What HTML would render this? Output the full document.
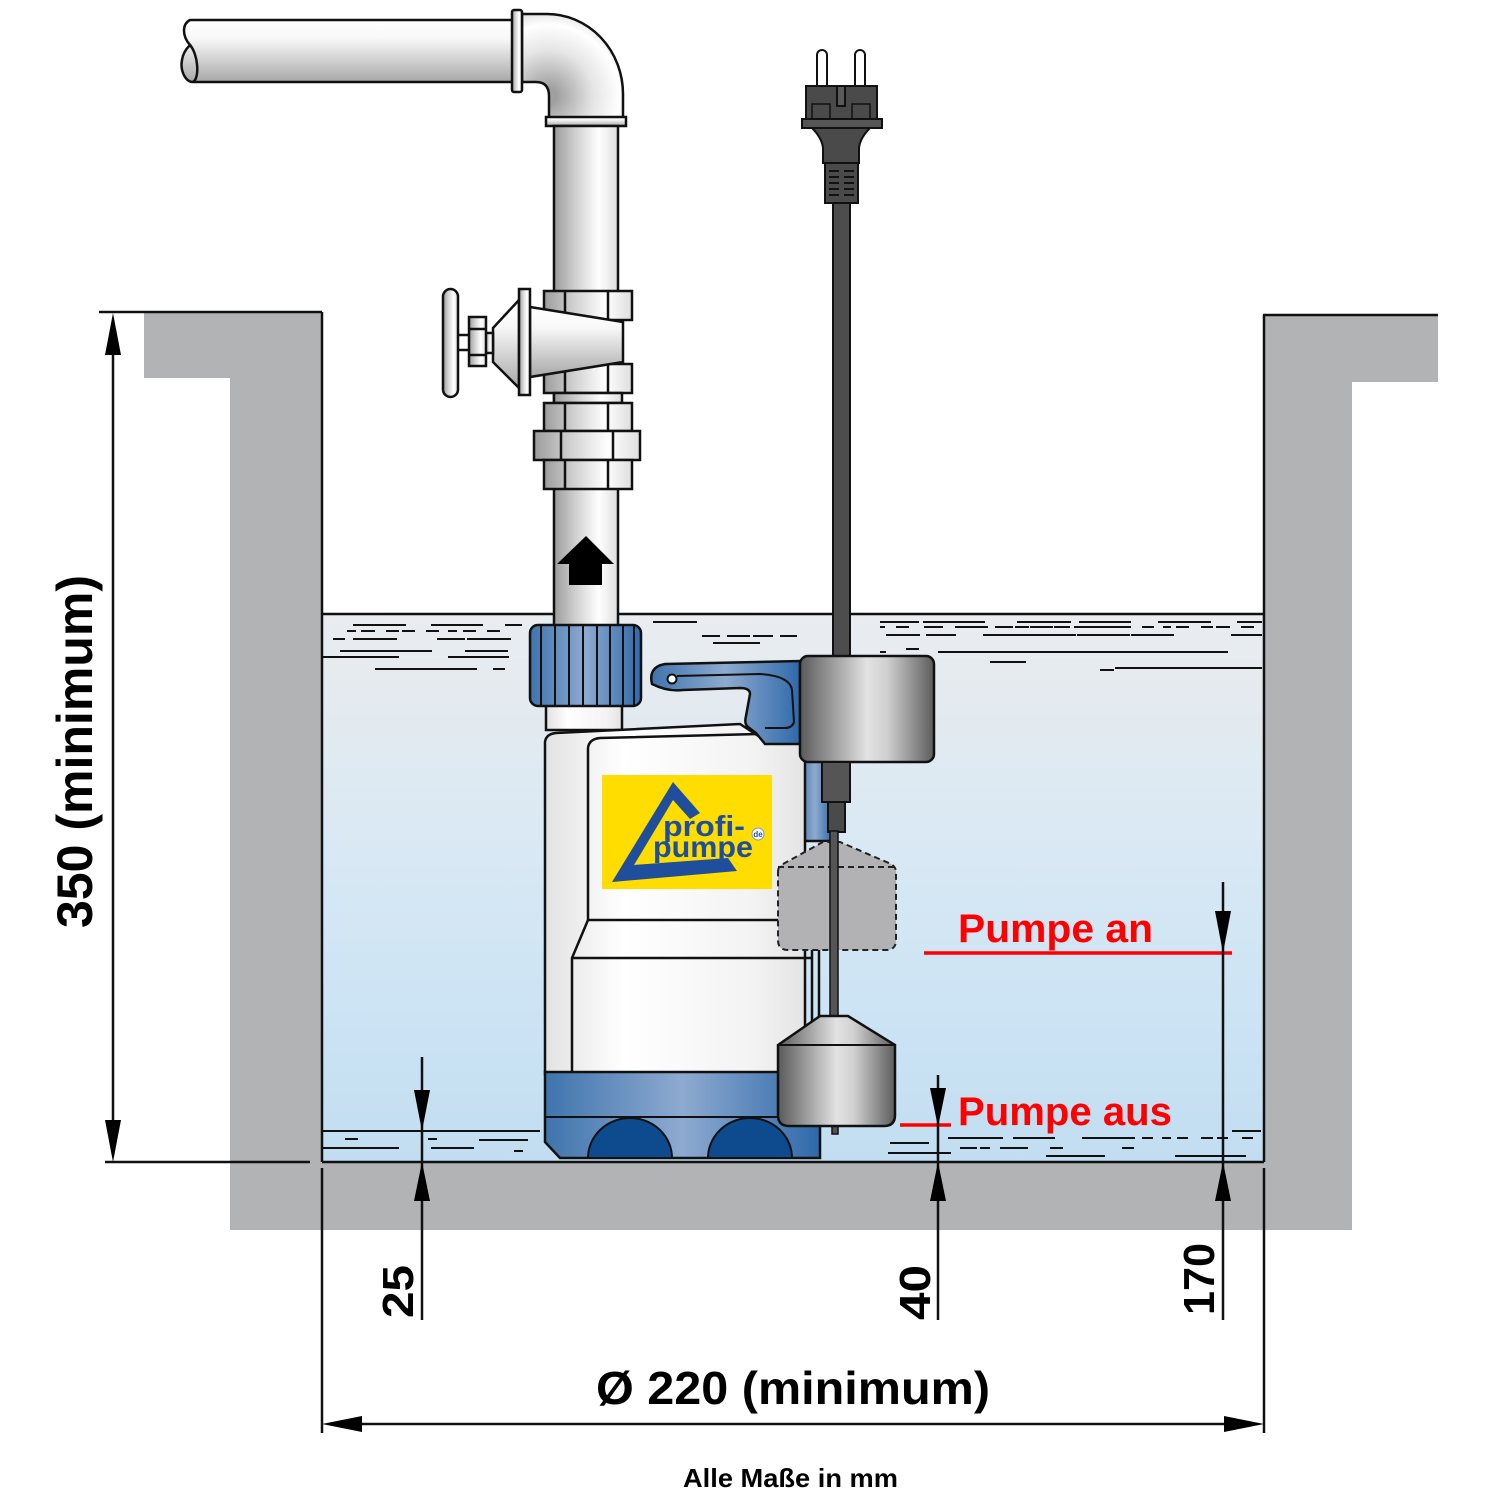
<!DOCTYPE html>
<html><head><meta charset="utf-8"><style>
html,body{margin:0;padding:0;background:#fff;}
svg{display:block;}
text{font-family:"Liberation Sans",Arial,sans-serif;font-weight:bold;}
</style></head><body>
<svg width="1500" height="1500" viewBox="0 0 1500 1500" xmlns="http://www.w3.org/2000/svg">
<defs>
<linearGradient id="water" x1="0" y1="0" x2="0" y2="1">
<stop offset="0" stop-color="#e9edf0"/><stop offset="0.15" stop-color="#e4eaef"/><stop offset="0.4" stop-color="#dae9f4"/><stop offset="0.7" stop-color="#cde4f4"/><stop offset="1" stop-color="#c2ddf1"/>
</linearGradient>
<linearGradient id="gv" x1="0" y1="0" x2="1" y2="0">
<stop offset="0" stop-color="#9c9c9c"/><stop offset="0.35" stop-color="#d2d2d2"/><stop offset="0.7" stop-color="#ffffff"/><stop offset="1" stop-color="#dedede"/>
</linearGradient>
<linearGradient id="gh" x1="0" y1="0" x2="0" y2="1">
<stop offset="0" stop-color="#ffffff"/><stop offset="0.3" stop-color="#f8f8f8"/><stop offset="1" stop-color="#a8a8a8"/>
</linearGradient>
<radialGradient id="gel" gradientUnits="userSpaceOnUse" cx="548" cy="96" r="84">
<stop offset="0.1" stop-color="#a0a0a0"/><stop offset="0.55" stop-color="#e6e6e6"/><stop offset="0.85" stop-color="#ffffff"/><stop offset="1" stop-color="#e4e4e4"/>
</radialGradient>
<linearGradient id="blue" x1="0" y1="0" x2="1" y2="0">
<stop offset="0" stop-color="#3f74ad"/><stop offset="0.5" stop-color="#8eaad0"/><stop offset="1" stop-color="#2f69aa"/>
</linearGradient>
<linearGradient id="body" x1="0" y1="0" x2="1" y2="0">
<stop offset="0" stop-color="#e2e2e2"/><stop offset="0.3" stop-color="#ffffff"/><stop offset="0.8" stop-color="#f3f3f3"/><stop offset="1" stop-color="#e4e4e4"/>
</linearGradient>
<linearGradient id="fl" x1="0" y1="0" x2="1" y2="0">
<stop offset="0" stop-color="#5a5a5a"/><stop offset="0.5" stop-color="#e2e2e2"/><stop offset="0.65" stop-color="#d0d0d0"/><stop offset="1" stop-color="#5c5c5c"/>
</linearGradient>
</defs>

<!-- walls -->
<path d="M144,313 L322,313 L322,1162 L1264,1162 L1264,316 L1438,316 L1438,382 L1352,382 L1352,1230 L230,1230 L230,378 L144,378 Z" fill="#b2b3b5"/>
<!-- water -->
<rect x="322" y="614" width="942" height="548" fill="url(#water)"/>
<!-- wall lines -->
<g stroke="#111" stroke-width="2.5" fill="none">
<line x1="99" y1="312" x2="322" y2="312"/>
<line x1="322" y1="312" x2="322" y2="1162"/>
<line x1="1264" y1="315" x2="1264" y2="1162"/>
<line x1="1263" y1="315" x2="1438" y2="315"/>
<line x1="322" y1="1162" x2="1264" y2="1162"/>
<line x1="322" y1="614" x2="1264" y2="614"/>
<line x1="105" y1="1162" x2="310" y2="1162"/>
</g>
<!-- waves -->
<path stroke="#111" stroke-width="2" fill="none" d="
M353,625H406M431,625H483M505,625H522
M347,631H356M361,631H375M386,631H399M402,631H415M426,631H439M448,631H457M463,631H476M487,631H500
M333,639H345M353,639H397M437,639H465M467,639H511
M340,651H432M465,651H508
M322,657H399M448,657H509
M375,669H477M493,669H505
M653,622H697M702,636H720M727,636H750M753,636H773M780,636H797M713,643H760
M880,622H919M923,622H985M1017,622H1071M1079,622H1131M1158,622H1211M1237,622H1262
M880,627H885M896,627H909M924,627H943M955,627H988M995,627H1013M1015,627H1029M1030,627H1053M1054,627H1070M1074,627H1131M1142,627H1154M1163,627H1171M1176,627H1189M1201,627H1213M1216,627H1230M1241,627H1254
M886,635H920M926,635H956M983,635H1076M1077,635H1130M1131,635H1174M1231,635H1262
M906,649H919M880,652H886M938,652H1228M990,662H1026M1100,670H1114M1115,668H1262
M322,1131H540M345,1139H358M428,1139H437M479,1140H528M322,1148H399M431,1148H474M514,1151H523
M1232,1131H1261M948,1138H1003M1013,1138H1055M1082,1138H1135M1142,1138H1153M1162,1138H1171M1177,1138H1188M1201,1138H1213M1217,1138H1228M1242,1138H1253
M890,1143H929M960,1148H977M980,1148H990M1000,1148H1028M1050,1148H1063M1122,1148H1134
M888,1153H951M1046,1156H1105M1175,1156H1246"/>

<!-- horizontal pipe -->
<path d="M190,20 L515,20 L515,82 L193,82 C185,82 180,70 182,60 C183,52 188,47 190,45 C182,36 182,24 190,20 Z" fill="url(#gh)" stroke="#111" stroke-width="2.5"/>
<path d="M190,45 C198,54 200,78 193,82" fill="none" stroke="#111" stroke-width="2.5"/>
<!-- elbow -->
<path d="M522,14 L547,14 A76,80 0 0 1 623,94 L623,118 L549,118 L549,96 Q549,82 536,82 L522,82 Z" fill="url(#gel)" stroke="#111" stroke-width="2.5"/>
<rect x="512" y="10" width="10" height="82" rx="2" fill="url(#gv)" stroke="#111" stroke-width="2.5"/>
<rect x="546" y="117" width="80" height="9" fill="url(#gh)" stroke="#111" stroke-width="2.5"/>
<!-- vertical pipe -->
<rect x="554" y="126" width="64" height="500" fill="url(#gv)" stroke="#111" stroke-width="2.5"/>
<!-- valve -->
<g stroke="#111" stroke-width="2.5">
<rect x="544" y="291" width="88" height="29" fill="url(#gv)"/>
<line x1="565" y1="291" x2="565" y2="320"/><line x1="608" y1="291" x2="608" y2="320"/>
<rect x="544" y="364" width="88" height="29" fill="url(#gv)"/>
<line x1="565" y1="364" x2="565" y2="393"/><line x1="608" y1="364" x2="608" y2="393"/>
<rect x="554" y="393" width="68" height="10" fill="url(#gv)"/>
<rect x="544" y="403" width="88" height="28" fill="url(#gv)"/>
<line x1="565" y1="403" x2="565" y2="431"/><line x1="608" y1="403" x2="608" y2="431"/>
<rect x="534" y="431" width="106" height="29" fill="url(#gv)"/>
<line x1="561" y1="431" x2="561" y2="460"/><line x1="613" y1="431" x2="613" y2="460"/>
<rect x="544" y="460" width="88" height="29" fill="url(#gv)"/>
<line x1="565" y1="460" x2="565" y2="489"/><line x1="608" y1="460" x2="608" y2="489"/>
<polygon points="530,307 623,322 623,362 530,377" fill="url(#gh)"/>
<polygon points="519,300 493,328 493,362 519,388" fill="url(#gh)"/>
<rect x="519" y="289" width="11" height="106" fill="url(#gv)"/>
<rect x="485" y="333" width="8" height="20" fill="url(#gv)"/>
<rect x="469" y="317" width="17" height="49" fill="url(#gv)"/>
<line x1="469" y1="329" x2="486" y2="329"/><line x1="469" y1="355" x2="486" y2="355"/>
<line x1="458" y1="335" x2="469" y2="335"/><line x1="458" y1="350" x2="469" y2="350"/>
<rect x="443" y="289" width="15" height="108" rx="7.5" fill="url(#gv)"/>
</g>
<!-- flow arrow -->
<polygon points="586,536 614,564 602,564 602,585 569,585 569,564 557,564" fill="#000"/>

<!-- blue nut -->
<rect x="546" y="700" width="76" height="30" fill="url(#body)" stroke="#111" stroke-width="2.5"/>
<rect x="530" y="625" width="111" height="81" rx="8" fill="url(#blue)" stroke="#111" stroke-width="2.5"/>
<g stroke="#111" stroke-width="2">
<line x1="541" y1="626" x2="541" y2="705"/><line x1="555" y1="626" x2="555" y2="705"/><line x1="569" y1="626" x2="569" y2="705"/><line x1="583" y1="626" x2="583" y2="705"/><line x1="597" y1="626" x2="597" y2="705"/><line x1="610" y1="626" x2="610" y2="705"/><line x1="623" y1="626" x2="623" y2="705"/><line x1="634" y1="626" x2="634" y2="705"/>
</g>

<!-- blue side strip -->
<rect x="798" y="735" width="34" height="106" rx="4" fill="url(#blue)" stroke="#111" stroke-width="2.5"/>
<!-- pump body -->
<path d="M545,1074 L545,742 Q546,734 556,733 L740,724 L760,737 L805,742 L805,1074 Z" fill="url(#body)" stroke="#111" stroke-width="2.5"/>
<g stroke="#111" stroke-width="2.5" fill="none">
<path d="M588,920 L588,748 Q589,739 600,738 L758,734"/>
<path d="M588,920 L572,958 L572,1074"/>
<line x1="588" y1="920" x2="800" y2="920"/>
<line x1="572" y1="958" x2="812" y2="958"/>
<line x1="812" y1="950" x2="812" y2="1074"/>
<line x1="819" y1="950" x2="819" y2="1074"/>
</g>
<!-- handle -->
<path d="M652,684 Q648,667 665,664 L800,661 L800,744 L765,744 L756,733 L748,727 Q744,724 746,716 L750,694 Q750,688 740,688 L683,690 Q668,692 652,684 Z" fill="url(#blue)" stroke="#111" stroke-width="2.5"/>
<path d="M677,676 L760,674 Q790,676 792,690 L794,722 Q792,728 785,728 L765,728" fill="none" stroke="#111" stroke-width="2"/>
<circle cx="672" cy="679" r="4.5" fill="#fff" stroke="#111" stroke-width="2"/>

<!-- logo -->
<rect x="602" y="775" width="170" height="114" fill="#ffdd00"/>
<polygon points="673,782 700,813 690,819 673,800 634,865 728,858 737,871 612,882" fill="#1f4e9c"/>
<text x="663" y="836" font-size="29" fill="#1f4e9c" textLength="82" lengthAdjust="spacingAndGlyphs">profi-</text>
<text x="653" y="857" font-size="30" fill="#1f4e9c" textLength="100" lengthAdjust="spacingAndGlyphs">pumpe</text>
<circle cx="758" cy="834" r="6" fill="#fff" stroke="#7a9bd0" stroke-width="1"/>
<text x="758" y="837" font-size="8" fill="#1f4e9c" text-anchor="middle">de</text>

<!-- blue base -->
<path d="M545,1072 L820,1072 L820,1158 L560,1158 L545,1142 Z" fill="url(#blue)" stroke="#111" stroke-width="2.5"/>
<line x1="545" y1="1117" x2="820" y2="1117" stroke="#111" stroke-width="2"/>
<path d="M588,1158 A42,40 0 0 1 672,1158 Z" fill="#0d4a8e" stroke="#111" stroke-width="2"/>
<path d="M708,1158 A42,40 0 0 1 792,1158 Z" fill="#0d4a8e" stroke="#111" stroke-width="2"/>

<!-- plug & cable -->
<rect x="833" y="200" width="17" height="458" fill="#4d4d4d" stroke="#111" stroke-width="2"/>
<g stroke="#111" stroke-width="2">
<rect x="817" y="50" width="10" height="40" rx="5" fill="#fff"/>
<rect x="855" y="50" width="10" height="40" rx="5" fill="#fff"/>
<rect x="806" y="86" width="71" height="33" fill="#4a4a4a"/>
<rect x="837" y="86" width="8" height="20" fill="#5a5a5a"/>
<path d="M812,119 V104 H830 V119 M852,119 V104 H870 V119" fill="none" stroke-width="1.5"/>
<rect x="802" y="119" width="80" height="9" fill="#555"/>
<path d="M812,128 L870,128 Q860,138 859,148 L859,163 L823,163 L823,148 Q822,138 812,128 Z" fill="#4a4a4a"/>
<rect x="825" y="163" width="33" height="40" fill="#4a4a4a"/>
</g>
<path stroke="#111" stroke-width="2" d="M829,171H839M844,171H854M829,177H839M844,177H854M829,183H839M844,183H854M829,189H839M844,189H854M829,195H839M844,195H854"/>

<!-- upper float -->
<rect x="800" y="656" width="134" height="106" rx="8" fill="url(#fl)" stroke="#111" stroke-width="2.5"/>
<rect x="822" y="762" width="28" height="40" fill="#555" stroke="#111" stroke-width="2"/>
<rect x="828" y="802" width="17" height="30" fill="#4a4a4a" stroke="#111" stroke-width="2"/>

<!-- ghost float -->
<path d="M778,872 Q778,866 783,864 L823,842 L840,842 L891,864 Q896,867 896,872 L896,940 Q896,950 886,950 L788,950 Q778,950 778,940 Z" fill="#b2b2b4" stroke="#222" stroke-width="2" stroke-dasharray="6,4"/>
<line x1="778" y1="867" x2="896" y2="867" stroke="#222" stroke-width="2" stroke-dasharray="6,4"/>

<!-- rod -->
<rect x="830" y="831" width="8" height="186" fill="#555" stroke="#111" stroke-width="1.5"/>
<rect x="832" y="1124" width="6" height="10" fill="#555" stroke="#111" stroke-width="1.5"/>
<!-- lower float -->
<path d="M778,1045 L820,1016 L848,1016 L895,1045 L895,1115 Q895,1126 884,1126 L789,1126 Q778,1126 778,1115 Z" fill="url(#fl)" stroke="#111" stroke-width="2.5"/>
<line x1="778" y1="1045" x2="895" y2="1045" stroke="#111" stroke-width="2"/>

<!-- red levels -->
<line x1="924" y1="953" x2="1232" y2="953" stroke="#ff0000" stroke-width="3.5"/>
<line x1="900" y1="1125" x2="951" y2="1125" stroke="#ff0000" stroke-width="3.5"/>
<text x="958" y="942" font-size="40" fill="#ff0000" textLength="195" lengthAdjust="spacingAndGlyphs">Pumpe an</text>
<text x="958" y="1125" font-size="40" fill="#ff0000" textLength="214" lengthAdjust="spacingAndGlyphs">Pumpe aus</text>

<!-- dimension lines -->
<g stroke="#111" stroke-width="2.5" fill="none">
<line x1="113" y1="320" x2="113" y2="1155"/>
<line x1="422" y1="1057" x2="422" y2="1320"/>
<line x1="938" y1="1075" x2="938" y2="1320"/>
<line x1="1223" y1="882" x2="1223" y2="1320"/>
<line x1="322" y1="1168" x2="322" y2="1433"/>
<line x1="1264" y1="1168" x2="1264" y2="1433"/>
<line x1="330" y1="1424" x2="1256" y2="1424"/>
</g>
<g fill="#000">
<polygon points="113,313 105,355 121,355"/>
<polygon points="113,1162 105,1120 121,1120"/>
<polygon points="422,1131 414,1090 430,1090"/>
<polygon points="422,1162 414,1201 430,1201"/>
<polygon points="938,1127 930,1088 946,1088"/>
<polygon points="938,1162 930,1201 946,1201"/>
<polygon points="1223,953 1215,911 1231,911"/>
<polygon points="1223,1162 1215,1201 1231,1201"/>
<polygon points="322,1424 362,1416 362,1432"/>
<polygon points="1264,1424 1224,1416 1224,1432"/>
</g>

<!-- dimension text -->
<text transform="translate(92,928) rotate(-90)" font-size="50" fill="#000" textLength="353" lengthAdjust="spacingAndGlyphs">350  (minimum)</text>
<text transform="translate(413,1318) rotate(-90)" font-size="44" fill="#000" textLength="53" lengthAdjust="spacingAndGlyphs">25</text>
<text transform="translate(930,1320) rotate(-90)" font-size="44" fill="#000" textLength="55" lengthAdjust="spacingAndGlyphs">40</text>
<text transform="translate(1214,1315) rotate(-90)" font-size="44" fill="#000" textLength="72" lengthAdjust="spacingAndGlyphs">170</text>
<text x="596" y="1404" font-size="46" fill="#000" textLength="394" lengthAdjust="spacingAndGlyphs">Ø 220 (minimum)</text>
<text x="683" y="1487" font-size="26" fill="#000" textLength="215" lengthAdjust="spacingAndGlyphs">Alle Maße in mm</text>
</svg>
</body></html>
